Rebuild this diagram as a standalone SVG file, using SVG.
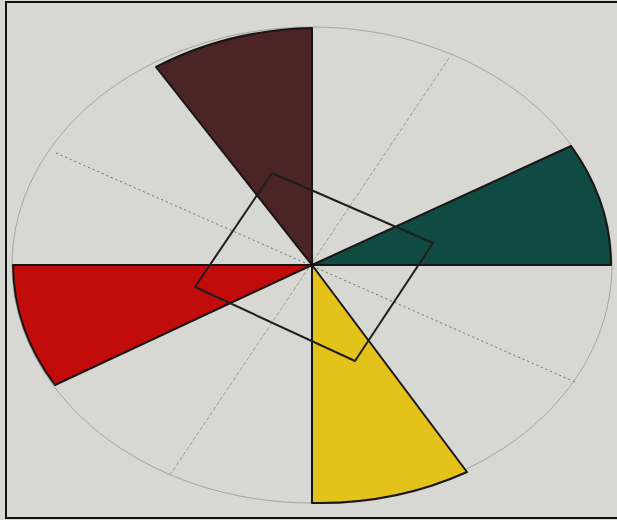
<svg xmlns="http://www.w3.org/2000/svg" width="617" height="520" viewBox="0 0 617 520">
<style>
.sector{stroke:#1a1414;stroke-width:2;stroke-linejoin:round}
.guide{fill:none;stroke-width:1}
</style>
<rect x="0" y="0" width="617" height="520" fill="#d7d7d3"/>
<rect x="6" y="2" width="614" height="516" fill="none" stroke="#111" stroke-width="2"/>
<g id="guides">
<ellipse cx="312" cy="265" rx="300" ry="238" class="guide" stroke="#a4a4a2"/>
<line x1="56" y1="153" x2="575" y2="382" class="guide" stroke="#6a6a6a" stroke-dasharray="2 3"/>
<line x1="449" y1="58" x2="170" y2="475" class="guide" stroke="#9a9a98" stroke-dasharray="4 2"/>
</g>
<g id="brown-sector"><path class="sector" fill="#4b2525" d="M312,265 L156,67 A300,238 0 0 1 312,28 Z"/></g>
<g id="teal-sector"><path class="sector" fill="#0f4a43" d="M312,265 L571,146 A300,238 0 0 1 611,265 Z"/></g>
<g id="red-sector"><path class="sector" fill="#c20b0b" d="M312,265 L13,265 A300,238 0 0 0 55,385 Z"/></g>
<g id="yellow-sector"><path class="sector" fill="#e3c21a" d="M312,265 L467,472 A300,238 0 0 1 312,503 Z"/></g>
<g id="square"><polygon points="272,173 433,243 355,361 195,287" fill="none" stroke="#1e1e1e" stroke-width="2" stroke-linejoin="round"/></g>
</svg>
